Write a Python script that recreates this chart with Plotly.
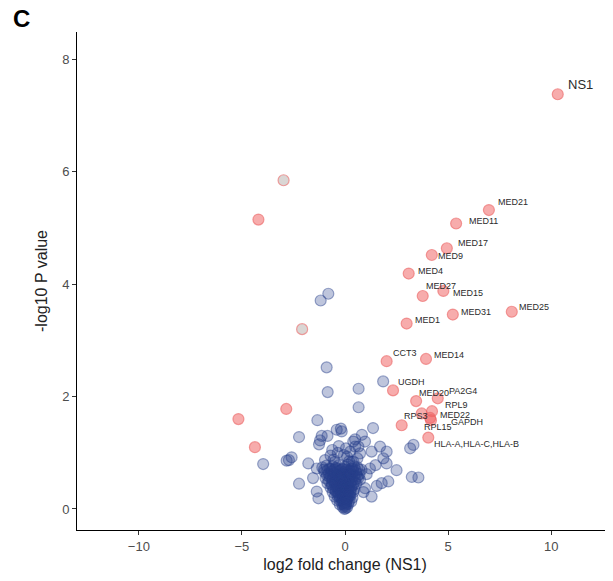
import plotly.graph_objects as go

# ---------------- data ----------------
genes = ["NS1", "MED21", "MED11", "MED17", "MED9", "MED4", "MED27", "MED15", "MED31",
         "MED25", "MED1", "CCT3", "MED14", "UGDH", "MED20", "PA2G4", "RPL9", "RPS3",
         "MED22", "GAPDH", "RPL15", "HLA-A;HLA-C;HLA-B"]
gene_lfc = [10.32, 6.98, 5.39, 4.94, 4.21, 3.09, 3.77, 4.77, 5.23,
            8.09, 2.99, 2.02, 3.93, 2.33, 3.45, 4.50, 4.22, 3.72,
            4.13, 4.17, 2.75, 4.04]
gene_logp = [7.38, 5.32, 5.08, 4.64, 4.52, 4.19, 3.79, 3.88, 3.46,
             3.51, 3.30, 2.63, 2.67, 2.11, 1.92, 1.97, 1.74, 1.70,
             1.62, 1.58, 1.49, 1.27]

red_lfc = [-4.20, -5.17, -2.85, -4.37]
red_logp = [5.15, 1.60, 1.78, 1.10]

faded_lfc = [-2.98, -2.08]
faded_logp = [5.85, 3.20]

blue_lfc = [
    -1.18, -0.81, -0.89, -0.84, 0.66, 0.66, 1.85, -1.34, -2.23, -3.97, -2.83, -2.59,
    -2.23, -0.40, -0.20, -1.13, -1.21, -1.26, 1.36, 0.82, 0.49, 0.97, 0.65, 1.29,
    1.70, 2.02, 1.86, 2.02, 0.41, 1.21, 2.50, 3.16, 3.32, 3.24, 3.56, 2.10, 1.78,
    1.54, 1.29, 0.97, 0.73, 0.16, -0.16, -1.78, -1.37, -0.97, -0.49, -1.37, -1.29,
    0.40, 0.49, 0.73, 0.33, -2.72, -0.85, -0.70, -0.35, 0.10, 0.25, -0.55, 0.60,
    -0.30, 0.05, 1.05, -1.55, -0.62, 0.90, 1.48, -0.05, 0.20,
    # dense core
    -1.10, -0.90, -0.75, -0.60, -0.45, -0.30, -0.15, 0.00, 0.15, 0.30, 0.45, 0.60, 0.80,
    -1.00, -0.80, -0.65, -0.50, -0.35, -0.20, -0.05, 0.10, 0.25, 0.40, 0.55, 0.70,
    -0.95, -0.75, -0.60, -0.45, -0.30, -0.18, -0.05, 0.08, 0.20, 0.35, 0.50, 0.65,
    -0.85, -0.65, -0.50, -0.38, -0.25, -0.12, 0.00, 0.12, 0.25, 0.40, 0.55,
    -0.70, -0.55, -0.42, -0.30, -0.18, -0.06, 0.06, 0.18, 0.30, 0.45,
    -0.60, -0.45, -0.33, -0.22, -0.10, 0.02, 0.14, 0.26, 0.40,
    -0.50, -0.36, -0.24, -0.12, 0.00, 0.12, 0.24, 0.36,
    -0.38, -0.26, -0.14, -0.03, 0.08, 0.20, 0.30,
    -0.25, -0.14, -0.04, 0.06, 0.16,
    -0.10, 0.00, 0.10,
    -0.03, 0.03,
    # second layer of core
    -1.02, -0.84, -0.68, -0.52, -0.38, -0.22, -0.08, 0.08, 0.22, 0.38, 0.52, 0.68,
    -0.88, -0.70, -0.55, -0.40, -0.26, -0.12, 0.02, 0.16, 0.30, 0.46, 0.60,
    -0.78, -0.62, -0.47, -0.33, -0.20, -0.07, 0.06, 0.19, 0.33, 0.48,
    -0.62, -0.48, -0.35, -0.21, -0.08, 0.05, 0.18, 0.32,
    -0.45, -0.31, -0.18, -0.06, 0.06, 0.18, 0.28,
    -0.30, -0.18, -0.07, 0.04, 0.14, 0.22,
    -0.16, -0.05, 0.05, 0.13,
    -0.06, 0.04,
]
blue_logp = [
    3.71, 3.83, 2.52, 2.08, 2.14, 1.81, 2.27, 1.58, 1.28, 0.80, 0.86, 0.92,
    0.45, 1.41, 1.43, 1.30, 1.22, 1.15, 1.44, 1.32, 1.24, 1.20, 1.11, 1.02,
    1.11, 1.02, 0.90, 0.81, 0.84, 0.72, 0.69, 1.08, 1.14, 0.57, 0.56, 0.49, 0.46,
    0.41, 0.22, 0.37, 0.52, 0.63, 1.38, 0.81, 0.72, 0.87, 0.84, 0.31, 0.19,
    1.20, 1.11, 0.99, 0.84, 0.87, 1.30, 0.95, 1.00, 0.93, 1.02, 0.88, 0.90,
    1.12, 1.08, 0.62, 0.55, 1.05, 0.30, 0.78, 0.96, 0.85,
    # dense core
    0.74, 0.77, 0.72, 0.76, 0.73, 0.78, 0.71, 0.75, 0.79, 0.72, 0.76, 0.74, 0.70,
    0.66, 0.63, 0.67, 0.64, 0.68, 0.62, 0.66, 0.65, 0.61, 0.67, 0.64, 0.62,
    0.55, 0.57, 0.53, 0.56, 0.54, 0.58, 0.52, 0.56, 0.54, 0.57, 0.53, 0.55,
    0.46, 0.44, 0.47, 0.43, 0.46, 0.45, 0.48, 0.44, 0.46, 0.43, 0.45,
    0.38, 0.36, 0.39, 0.37, 0.40, 0.36, 0.38, 0.39, 0.37, 0.35,
    0.30, 0.31, 0.29, 0.32, 0.30, 0.28, 0.31, 0.29, 0.30,
    0.22, 0.23, 0.21, 0.24, 0.22, 0.21, 0.23, 0.20,
    0.15, 0.16, 0.14, 0.15, 0.16, 0.14, 0.13,
    0.08, 0.09, 0.07, 0.08, 0.09,
    0.03, 0.04, 0.03,
    0.00, 0.01,
    # second layer of core
    0.70, 0.69, 0.71, 0.70, 0.72, 0.69, 0.71, 0.70, 0.68, 0.71, 0.69, 0.70,
    0.60, 0.59, 0.61, 0.60, 0.58, 0.61, 0.59, 0.60, 0.62, 0.59, 0.58,
    0.50, 0.51, 0.49, 0.50, 0.52, 0.50, 0.49, 0.51, 0.50, 0.48,
    0.41, 0.42, 0.40, 0.41, 0.42, 0.40, 0.41, 0.40,
    0.33, 0.34, 0.33, 0.34, 0.33, 0.34, 0.32,
    0.25, 0.26, 0.25, 0.26, 0.25, 0.24,
    0.18, 0.19, 0.18, 0.17,
    0.10, 0.11,
]

x_ticks = [-10, -5, 0, 5, 10]
y_ticks = [0, 2, 4, 6, 8]

# ---------------- label placement (pixel offsets) ----------------
label_shift = {
    "NS1": (8, 10), "MED21": (7, 8), "MED11": (11, 3), "MED17": (9, 5), "MED9": (4, -1),
    "MED4": (7, 3), "MED27": (1, 10), "MED15": (8, -2), "MED31": (6, 3), "MED25": (5, 5),
    "MED1": (6, 4), "CCT3": (4, 8), "MED14": (6, 4), "UGDH": (3, 8), "MED20": (1, 8),
    "PA2G4": (9, 7), "RPL9": (11, 6), "RPS3": (-20, -3), "MED22": (8, 3), "GAPDH": (18, -2),
    "RPL15": (20, -2), "HLA-A;HLA-C;HLA-B": (4, -6),
}

FONT = "Liberation Sans, Arial, sans-serif"
MS = 11
# page body adds an 8px offset; figure is sized so the plot area lands where the reference has it
ML, MT, MB = 69, 24, 51
W, H = 605, 573
PW, PH = W - ML, H - MT - MB

fig = go.Figure()
fig.add_trace(go.Scatter(
    x=blue_lfc, y=blue_logp, mode="markers", hoverinfo="skip",
    marker=dict(size=MS, color="rgba(39,64,139,0.30)",
                line=dict(color="rgba(39,64,139,0.45)", width=1.2)),
))
fig.add_trace(go.Scatter(
    x=faded_lfc, y=faded_logp, mode="markers", hoverinfo="skip",
    marker=dict(size=MS, color="rgba(205,200,198,0.75)",
                line=dict(color="rgba(235,120,120,0.7)", width=1.2)),
))
fig.add_trace(go.Scatter(
    x=red_lfc + gene_lfc, y=red_logp + gene_logp, mode="markers", hoverinfo="skip",
    marker=dict(size=MS, color="rgba(240,95,95,0.52)",
                line=dict(color="rgba(235,100,100,0.6)", width=1.2)),
))

annotations = []
for g, gx, gy in zip(genes, gene_lfc, gene_logp):
    dx, dy = label_shift[g]
    annotations.append(dict(
        x=gx, y=gy, xref="x", yref="y", text=g.replace(";", ","), showarrow=False,
        xanchor="left", yanchor="middle", xshift=dx, yshift=dy,
        font=dict(family=FONT, size=13 if g == "NS1" else 9, color="#2b2b2b"),
    ))
annotations.append(dict(
    x=(3 - ML) / PW, y=1 + (MT - 11) / PH, xref="paper", yref="paper", text="<b>C</b>",
    showarrow=False, xanchor="left", yanchor="middle",
    font=dict(family=FONT, size=24, color="black"),
))

fig.update_layout(
    width=W, height=H,
    margin=dict(l=ML, r=0, t=MT, b=MB, autoexpand=False),
    paper_bgcolor="white", plot_bgcolor="white",
    showlegend=False,
    annotations=annotations,
    font=dict(family=FONT),
)
fig.update_xaxes(
    range=[-13.0, 13.0], tickvals=x_ticks, showgrid=False, zeroline=False,
    showline=True, linecolor="black", linewidth=1,
    ticks="outside", ticklen=4, tickcolor="#333333",
    tickfont=dict(family=FONT, size=13, color="#4d4d4d"),
    title=dict(text="log2 fold change (NS1)", font=dict(family=FONT, size=16, color="#222"),
               standoff=6),
)
fig.update_yaxes(
    range=[-0.374, 8.488], tickvals=y_ticks, showgrid=False, zeroline=False,
    showline=True, linecolor="black", linewidth=1,
    ticks="outside", ticklen=4, tickcolor="#333333",
    tickfont=dict(family=FONT, size=13, color="#4d4d4d"),
    title=dict(text="-log10 P value", font=dict(family=FONT, size=16, color="#222"),
               standoff=10),
)

fig.write_html("out.html")
